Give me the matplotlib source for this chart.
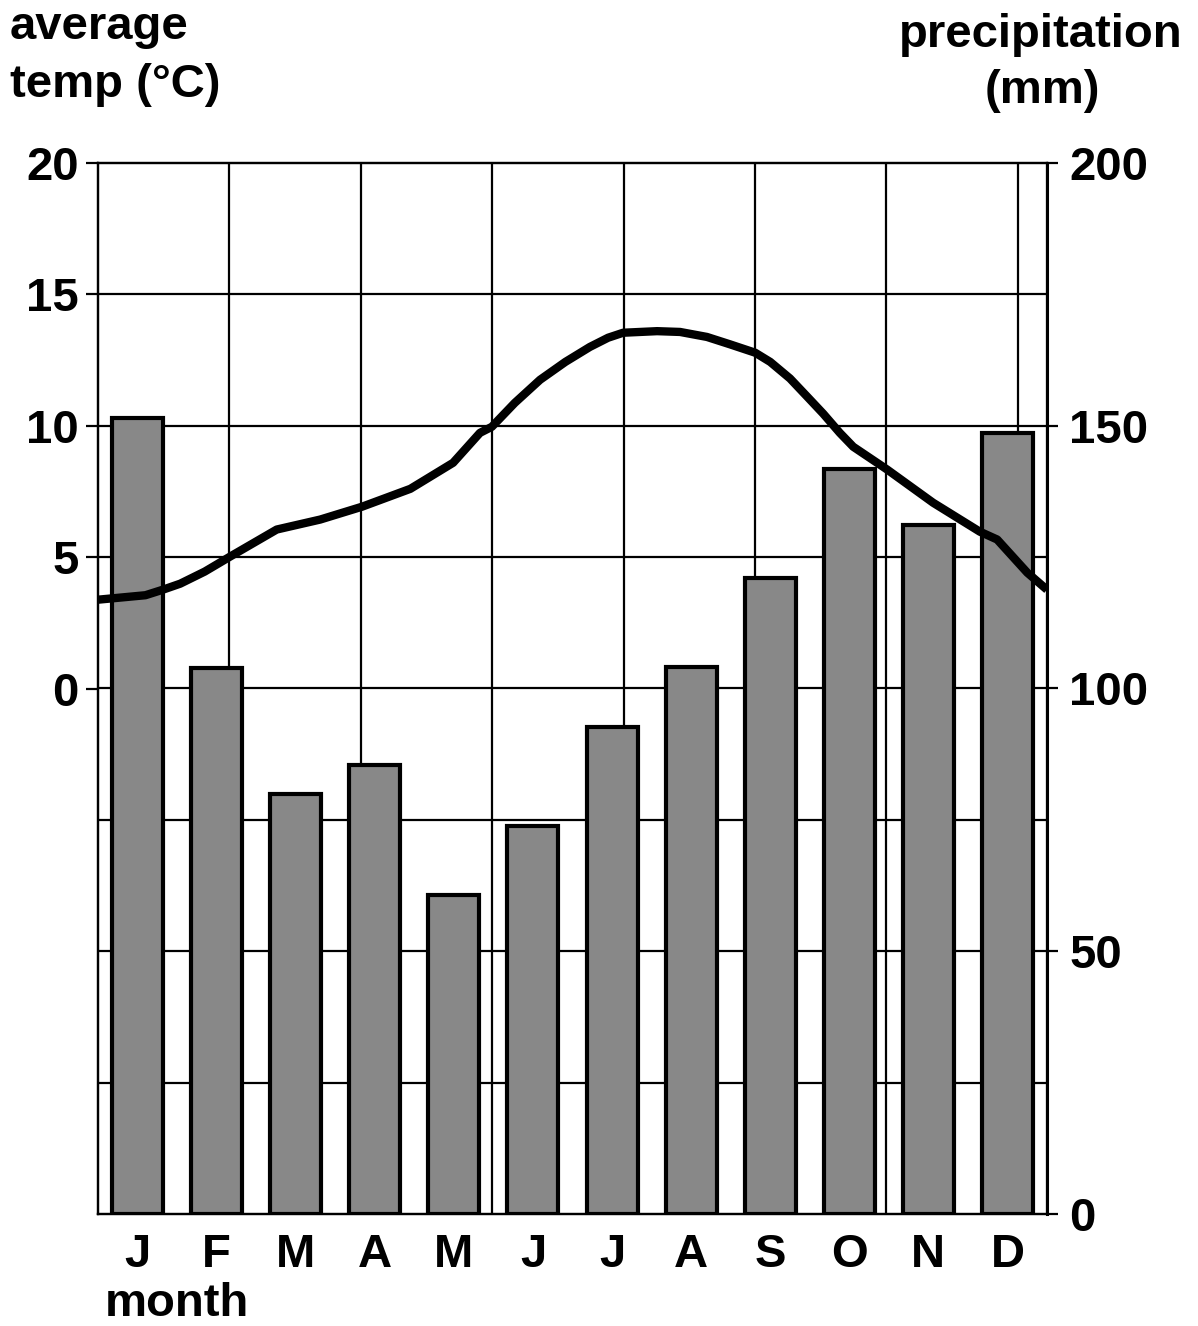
import numpy as np
import matplotlib.pyplot as plt

plt.rcParams['font.family'] = ['Liberation Sans', 'DejaVu Sans']
plt.rcParams['font.weight'] = 'bold'

# --- Data ---
MONTHS = ["J", "F", "M", "A", "M", "J", "J", "A", "S", "O", "N", "D"]
PRECIP_MM = [151.5, 103.9, 79.9, 85.4, 60.7, 73.8, 92.7, 104.1, 121.0, 141.8, 131.1, 148.6]

# temperature curve: position in month units (J = 0) and degrees C
TEMP_X = [-0.5, 0.1, 0.32, 0.54, 0.85, 1.17, 1.76, 2.31, 2.84, 3.45, 3.99, 4.33, 4.48,
          4.77, 5.09, 5.41, 5.72, 5.95, 6.14, 6.57, 6.86, 7.20, 7.49, 7.81, 8.0, 8.25,
          8.47, 8.67, 8.88, 9.05, 9.48, 10.06, 10.65, 10.87, 11.25, 11.5]
TEMP_C = [3.38, 3.55, 3.76, 3.99, 4.45, 5.02, 6.05, 6.43, 6.92, 7.6, 8.59, 9.73, 9.96,
          10.87, 11.75, 12.43, 13.0, 13.35, 13.54, 13.6, 13.57, 13.38, 13.1, 12.78, 12.43, 11.8,
          11.1, 10.46, 9.73, 9.2, 8.33, 7.07, 5.97, 5.67, 4.41, 3.76]

TEMP_TICKS = [0, 5, 10, 15, 20]
PRECIP_TICKS = [0, 50, 100, 150, 200]
PRECIP_GRID = [25, 50, 75, 100, 125, 150, 175]

# --- Layout (pixels) ---
W, H = 1198, 1326
LEFT, RIGHT, TOP, BOTTOM = 98, 1047, 163, 1214
FS = 34
LW = 1.6

fig = plt.figure(figsize=(W / 100, H / 100), dpi=100)
ax = fig.add_axes([LEFT / W, 1 - BOTTOM / H, (RIGHT - LEFT) / W, (BOTTOM - TOP) / H])
ax2 = ax.twinx()
ax.set_zorder(2)
ax.patch.set_visible(False)
ax2.set_zorder(1)

x = np.arange(len(MONTHS))
ax.set_xlim(-0.5, len(MONTHS) - 0.5)
ax.set_ylim(-20, 20)
ax2.set_ylim(0, 200)

# grid: horizontal lines every 25 mm, vertical lines making square cells
for v in PRECIP_GRID:
    ax2.axhline(v, color="black", lw=LW, zorder=1)
cell = ((BOTTOM - TOP) / 8) / (RIGHT - LEFT) * len(MONTHS)
for k in range(1, 8):
    ax2.axvline(-0.5 + k * cell, color="black", lw=LW, zorder=1)

ax2.bar(x, PRECIP_MM, width=0.645, color="#888888", edgecolor="black", linewidth=3, zorder=3)
ax.plot(TEMP_X, TEMP_C, color="black", lw=6, solid_joinstyle="round", solid_capstyle="butt")

ax.set_yticks(TEMP_TICKS)
ax.set_xticks(x)
ax.set_xticklabels(MONTHS)
ax.tick_params(axis="y", direction="out", length=9, width=LW, labelsize=FS, pad=5)
ax.tick_params(axis="x", length=0, labelsize=FS, pad=14)
ax2.set_yticks(PRECIP_TICKS)
ax2.tick_params(axis="y", direction="out", length=8, width=LW, labelsize=FS, pad=8)

for a in (ax, ax2):
    for s in a.spines.values():
        s.set_linewidth(LW)
ax2.spines["right"].set_linewidth(2.2)

# axis titles
fig.text(10 / W, 1 - 39 / H, "average", fontsize=FS, ha="left", va="baseline")
fig.text(10 / W, 1 - 97 / H, "temp (°C)", fontsize=FS, ha="left", va="baseline")
fig.text(1183 / W, 1 - 47 / H, "precipitation", fontsize=FS, ha="right", va="baseline")
fig.text(1042 / W, 1 - 103 / H, "(mm)", fontsize=FS, ha="center", va="baseline")
fig.text(105 / W, 1 - 1316 / H, "month", fontsize=FS, ha="left", va="baseline")

plt.savefig("out.png", dpi=100)
